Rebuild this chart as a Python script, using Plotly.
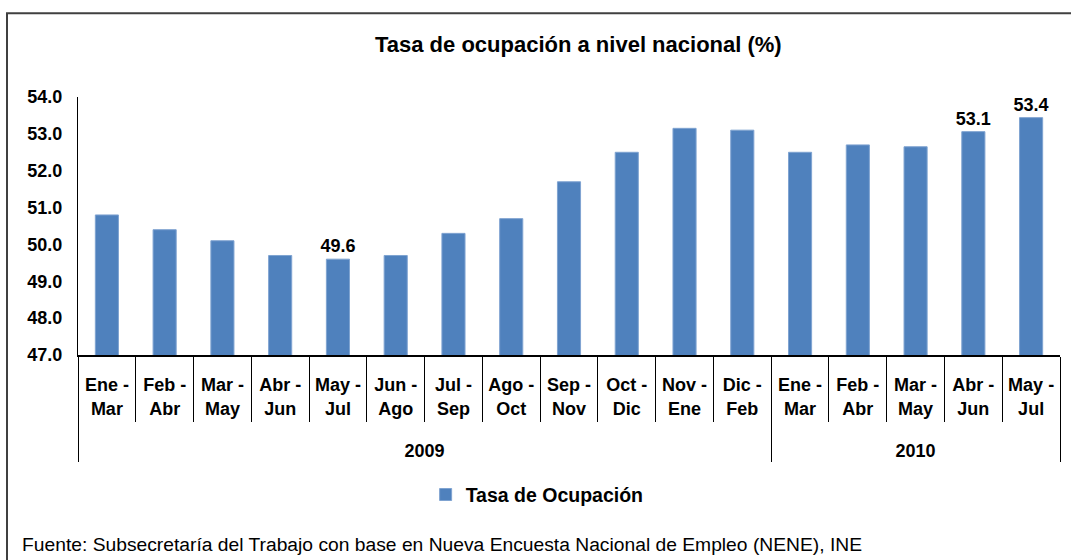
import plotly.graph_objects as go

years = ["2009"] * 12 + ["2010"] * 5
period_starts = ["Ene", "Feb", "Mar", "Abr", "May", "Jun", "Jul", "Ago", "Sep", "Oct", "Nov", "Dic",
                 "Ene", "Feb", "Mar", "Abr", "May"]
period_ends = ["Mar", "Abr", "May", "Jun", "Jul", "Ago", "Sep", "Oct", "Nov", "Dic", "Ene", "Feb",
               "Mar", "Abr", "May", "Jun", "Jul"]
values = [50.8, 50.4, 50.1, 49.7, 49.6, 49.7, 50.3, 50.7, 51.7, 52.5, 53.15, 53.1,
          52.5, 52.7, 52.65, 53.06, 53.44]
labeled = [4, 15, 16]
series_name = "Tasa de Ocupación"
title = "Tasa de ocupación a nivel nacional (%)"
source = "Fuente: Subsecretaría del Trabajo con base en Nueva Encuesta Nacional de Empleo (NENE), INE"

# two-line period labels; the trailing invisible spacer line sets the depth of the year row
SPACER = "<br><span style='font-size:68px'>\u00a0</span>"
periods = [f"{a} -<br>{b}{SPACER}" for a, b in zip(period_starts, period_ends)]
texts = [f"{v:.1f}" if i in labeled else "" for i, v in enumerate(values)]

FONT = "Liberation Sans, Arial, sans-serif"

fig = go.Figure()
fig.add_trace(go.Bar(
    x=[years, periods], y=values, name=series_name,
    marker=dict(color="#4F81BD", line=dict(color="#7FA3D1", width=1)),
    text=texts, textposition="outside", cliponaxis=False, constraintext="none",
    textfont=dict(family=FONT, size=18, color="black", weight="bold"),
    showlegend=True, hoverinfo="skip",
))

fig.update_layout(
    width=1071, height=560,
    margin=dict(l=78, r=11, t=97, b=205),
    paper_bgcolor="white", plot_bgcolor="white",
    bargap=0.6,
    font=dict(family=FONT, color="black"),
    title=dict(text="<b>" + title + "</b>", x=0.54, xanchor="center", y=0.921, yanchor="middle",
               font=dict(family=FONT, size=22, color="black")),
    showlegend=True,
    legend=dict(orientation="h", x=0.354, xanchor="left", y=-0.542, yanchor="middle",
                font=dict(family=FONT, size=19.5, color="black", weight="bold"),
                bgcolor="rgba(0,0,0,0)"),
    yaxis=dict(range=[47, 54], dtick=1, tickformat=".1f", showgrid=False, zeroline=False,
               showline=True, linecolor="black", linewidth=1, ticks="",
               ticklabelstandoff=11,
               tickfont=dict(family=FONT, size=18, color="black", weight="bold")),
    xaxis=dict(type="multicategory", showline=True, linecolor="black", linewidth=1.5,
               ticks="outside", ticklen=65, tickcolor="black", tickwidth=1,
               ticklabelstandoff=13,
               showdividers=True, dividercolor="black", dividerwidth=1,
               tickfont=dict(family=FONT, size=18, color="black", weight="bold")),
    shapes=[dict(type="rect", xref="paper", yref="paper", x0=-0.0723, x1=1.05, y0=-0.9, y1=1.325,
                 line=dict(color="#404040", width=2), fillcolor="rgba(0,0,0,0)", layer="below")],
    annotations=[dict(text=source, xref="paper", yref="paper", x=-0.059, y=-0.733,
                      xanchor="left", yanchor="middle", showarrow=False,
                      font=dict(family=FONT, size=19.25, color="black"))],
)

fig.write_html("out.html", config={"displayModeBar": False},
               post_script="document.body.style.margin='0';")
